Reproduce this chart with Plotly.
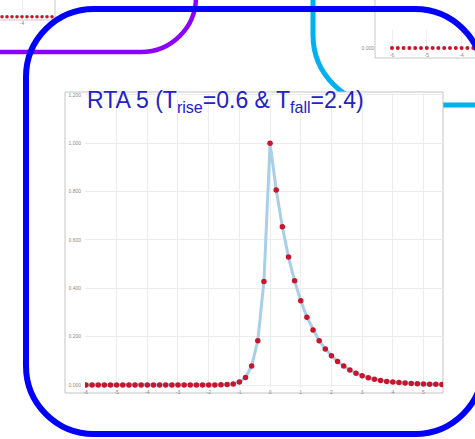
import plotly.graph_objects as go

# ---------------- data ----------------
t_values = [-6.0, -5.8, -5.6, -5.4, -5.2, -5.0, -4.8, -4.6, -4.4, -4.2,
            -4.0, -3.8, -3.6, -3.4, -3.2, -3.0, -2.8, -2.6, -2.4, -2.2,
            -2.0, -1.8, -1.6, -1.4, -1.2, -1.0, -0.8, -0.6, -0.4, -0.2,
            0.0, 0.2, 0.4, 0.6, 0.8, 1.0, 1.2, 1.4, 1.6, 1.8,
            2.0, 2.2, 2.4, 2.6, 2.8, 3.0, 3.2, 3.4, 3.6, 3.8,
            4.0, 4.2, 4.4, 4.6, 4.8, 5.0, 5.2, 5.4, 5.6]
rta_values = [0.000, 0.000, 0.000, 0.000, 0.000, 0.000, 0.000, 0.000, 0.000, 0.000,
              0.000, 0.000, 0.000, 0.000, 0.000, 0.000, 0.000, 0.000, 0.000, 0.000,
              0.000, 0.000, 0.001, 0.002, 0.004, 0.012, 0.031, 0.079, 0.183, 0.428,
              1.000, 0.807, 0.655, 0.529, 0.431, 0.349, 0.280, 0.228, 0.183, 0.149,
              0.121, 0.097, 0.079, 0.062, 0.049, 0.038, 0.030, 0.024, 0.019, 0.015,
              0.012, 0.010, 0.008, 0.006, 0.005, 0.004, 0.003, 0.003, 0.002]
x_ticks = [-6, -5, -4, -3, -2, -1, 0, 1, 2, 3, 4, 5]
y_ticks = [0.0, 0.2, 0.4, 0.6, 0.8, 1.0, 1.2]

# fragments of neighbouring charts (partly visible)
frag_left_x = [0, 1, 2, 3, 4, 5, 6, 7, 8, 9, 10]
frag_left_y = [0.0, 0.0, 0.0, 0.0, 0.0, 0.0, 0.0, 0.0, 0.0, 0.0, 0.0]
frag_right_x = [0, 1, 2, 3, 4, 5, 6, 7, 8, 9, 10, 11, 12, 13, 14]
frag_right_y = [0.0, 0.0, 0.0, 0.0, 0.0, 0.0, 0.0, 0.0, 0.0, 0.0, 0.0, 0.0, 0.0, 0.0, 0.0]

TITLE = "RTA 5 (T<sub>rise</sub>=0.6 &amp; T<sub>fall</sub>=2.4)"

W, H = 475, 439
def px(x):
    return x / W
def py(y):
    return 1 - y / H

def path_from(cmds, close=False):
    s = ""
    for cmd, ps in cmds:
        s += cmd + " " + " ".join(f"{px(x):.5f},{py(y):.5f}" for x, y in ps) + " "
    return s + ("Z" if close else "")

def rounded_path(l, t, r, b, rad):
    k = 0.5523 * rad
    return path_from([
        ("M", [(l, t + rad)]),
        ("C", [(l, t + rad - k), (l + rad - k, t), (l + rad, t)]),
        ("L", [(r - rad, t)]),
        ("C", [(r - rad + k, t), (r, t + rad - k), (r, t + rad)]),
        ("L", [(r, b - rad)]),
        ("C", [(r, b - rad + k), (r - rad + k, b), (r - rad, b)]),
        ("L", [(l + rad, b)]),
        ("C", [(l + rad - k, b), (l, b - rad + k), (l, b - rad)]),
    ], close=True)

fig = go.Figure()

# main chart
fig.add_trace(go.Scatter(x=t_values, y=rta_values, mode="lines",
                         line=dict(color="#a8cfe8", width=3), hoverinfo="skip",
                         xaxis="x", yaxis="y"))
fig.add_trace(go.Scatter(x=t_values, y=rta_values, mode="markers",
                         marker=dict(color="#c8142c", size=5.5), xaxis="x", yaxis="y"))
# fragments
fig.add_trace(go.Scatter(x=frag_left_x, y=frag_left_y, mode="markers",
                         marker=dict(color="#c8142c", size=3.5), xaxis="x2", yaxis="y2"))
fig.add_trace(go.Scatter(x=frag_right_x, y=frag_right_y, mode="markers",
                         marker=dict(color="#c8142c", size=4), xaxis="x3", yaxis="y3"))

tickfont = dict(family="Liberation Sans", size=5, color="#8a8a8a")

shapes = []
# cyan line (behind main chart)
cr = 70
k = 0.5523 * cr
shapes.append(dict(type="path", xref="paper", yref="paper", layer="below",
                   path=path_from([("M", [(313, -5)]), ("L", [(313, 35)]),
                                   ("C", [(313, 35 + k), (383 - k, 105), (383, 105)]),
                                   ("L", [(480, 105)])]),
                   line=dict(color="#00b0f0", width=5)))
# purple line
pr = 55
pk = 0.5523 * pr
shapes.append(dict(type="path", xref="paper", yref="paper", layer="below",
                   path=path_from([("M", [(-5, 52)]), ("L", [(141, 52)]),
                                   ("C", [(141 + pk, 52), (196, -3 + pk), (196, -3)]),
                                   ("L", [(196, -10)])]),
                   line=dict(color="#8c00ff", width=4.5)))
# fragment boxes
shapes.append(dict(type="rect", xref="paper", yref="paper", layer="below",
                   x0=px(-5), x1=px(55), y0=py(20), y1=py(-5),
                   line=dict(color="#c8c8c8", width=1), fillcolor="white"))
shapes.append(dict(type="rect", xref="paper", yref="paper", layer="below",
                   x0=px(375), x1=px(485), y0=py(58), y1=py(-5),
                   line=dict(color="#c8c8c8", width=1), fillcolor="white"))
# main chart image box
shapes.append(dict(type="rect", xref="paper", yref="paper", layer="below",
                   x0=px(65), x1=px(443), y0=py(393), y1=py(92),
                   line=dict(color="#c4c4c4", width=1), fillcolor="white"))
# blue rounded frame (on top)
shapes.append(dict(type="path", xref="paper", yref="paper", layer="above",
                   path=rounded_path(26, 9, 483, 434, 68),
                   line=dict(color="#0000ff", width=6)))

fig.update_layout(
    width=W, height=H, autosize=False,
    margin=dict(l=0, r=0, t=0, b=0, pad=0),
    paper_bgcolor="white", plot_bgcolor="rgba(0,0,0,0)",
    showlegend=False,
    shapes=shapes,
    xaxis=dict(domain=[px(85), px(443)], range=[-6.03, 5.635],
               tickvals=x_ticks, ticktext=[str(v) for v in x_ticks],
               showgrid=True, gridcolor="#ececec", gridwidth=1, zeroline=False,
               showline=False, ticks="", tickfont=tickfont, ticklabelstandoff=0),
    yaxis=dict(domain=[py(388), py(92)], range=[-0.0124, 1.212],
               tickvals=y_ticks, tickformat=".3f",
               showgrid=True, gridcolor="#ececec", gridwidth=1, zeroline=False,
               showline=False, ticks="", tickfont=tickfont, ticklabelstandoff=3),
    xaxis2=dict(domain=[0, px(55)], range=[-0.4, 10.6], anchor="y2",
                tickvals=[4], ticktext=["-4"], showgrid=True, gridcolor="#eeeeee",
                zeroline=False, showline=False, ticks="", tickfont=tickfont),
    yaxis2=dict(domain=[py(19), 1], range=[-0.023, 0.167], anchor="x2",
                showgrid=False, zeroline=False, showticklabels=False),
    xaxis3=dict(domain=[px(375), 1], range=[-2.93, 14.31], anchor="y3",
                tickvals=[0, 6, 12], ticktext=["-6", "-5", "-4"], showgrid=True,
                gridcolor="#eeeeee", zeroline=False, showline=False, ticks="",
                tickfont=tickfont, ticklabelstandoff=0),
    yaxis3=dict(domain=[py(51), py(30)], range=[-0.03, 0.18], anchor="x3",
                tickvals=[0.0], tickformat=".3f", showgrid=False, zeroline=False,
                showline=False, ticks="", tickfont=tickfont),
    annotations=[dict(text=TITLE, xref="paper", yref="paper",
                      x=px(85), y=py(101), xanchor="left", yanchor="middle",
                      showarrow=False,
                      font=dict(family="Liberation Sans", size=23, color="#2222c8"))],
)

fig.write_html("out.html", config={"displayModeBar": False},
               post_script="document.body.style.margin='0';")
